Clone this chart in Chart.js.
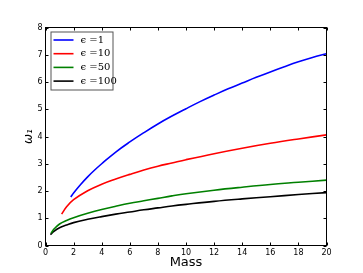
<!DOCTYPE html>
<html>
<head>
<meta charset="utf-8">
<script src="https://cdn.jsdelivr.net/npm/chart.js@4.4.0/dist/chart.umd.min.js"></script>
<style>
html,body{margin:0;padding:0;background:#fff;}
</style>
</head>
<body>
<canvas id="chart" width="363" height="273"></canvas>
<script>
// series names + colours
var seriesNames = ['\u03f5 =1', '\u03f5 =10', '\u03f5 =50', '\u03f5 =100'];
var seriesColors = ['#0000ff', '#ff0000', '#008000', '#000000'];

// epsilon = 1
var massE1  = [1.8, 2, 2.5, 3, 3.5, 4, 5, 6, 7, 8, 9, 10, 11, 12, 13, 14, 15, 16, 17, 18, 19, 20];
var omegaE1 = [1.78, 1.93, 2.24, 2.52, 2.77, 3.0, 3.43, 3.80, 4.14, 4.46, 4.75, 5.02, 5.28, 5.52, 5.75, 5.96, 6.17, 6.37, 6.56, 6.74, 6.90, 7.04];
// epsilon = 10
var massE10  = [1.15, 1.5, 2, 3, 4, 5, 6, 7, 8, 9, 10, 12, 14, 16, 18, 20];
var omegaE10 = [1.15, 1.42, 1.68, 2.01, 2.25, 2.44, 2.61, 2.77, 2.91, 3.03, 3.15, 3.37, 3.57, 3.75, 3.91, 4.06];
// epsilon = 50
var massE50  = [0.4, 0.6, 1, 1.5, 2, 3, 4, 5, 6, 7, 8, 9, 10, 12, 14, 16, 18, 20];
var omegaE50 = [0.45, 0.60, 0.79, 0.92, 1.02, 1.18, 1.32, 1.44, 1.55, 1.64, 1.73, 1.82, 1.90, 2.03, 2.14, 2.24, 2.32, 2.40];
// epsilon = 100
var massE100  = [0.35, 0.6, 1, 1.5, 2, 3, 4, 5, 6, 7, 8, 9, 10, 12, 14, 16, 18, 20];
var omegaE100 = [0.40, 0.52, 0.65, 0.75, 0.84, 0.96, 1.06, 1.15, 1.23, 1.31, 1.38, 1.45, 1.51, 1.62, 1.71, 1.79, 1.87, 1.94];

var xTicks = [0, 2, 4, 6, 8, 10, 12, 14, 16, 18, 20];
var yTicks = [0, 1, 2, 3, 4, 5, 6, 7, 8];

function pts(xs, ys) {
    var out = [];
    for (let i = 0; i < xs.length; i++) out.push({x: xs[i], y: ys[i]});
    return out;
}

var allMass = [massE1, massE10, massE50, massE100];
var allOmega = [omegaE1, omegaE10, omegaE50, omegaE100];
var datasets = [];
for (let i = 0; i < seriesNames.length; i++) {
    datasets.push({
        label: seriesNames[i],
        data: pts(allMass[i], allOmega[i]),
        borderColor: seriesColors[i],
        borderWidth: 1.6,
        pointRadius: 0,
        fill: false,
        tension: 0.4
    });
}

// frame with inward ticks on all four sides (matplotlib style)
var framePlugin = {
    id: 'frame',
    afterDraw(chart) {
        const ctx = chart.ctx, a = chart.chartArea;
        const xs = chart.scales.x, ys = chart.scales.y;
        ctx.save();
        ctx.strokeStyle = '#000';
        ctx.lineWidth = 1;
        ctx.strokeRect(a.left, a.top, a.right - a.left, a.bottom - a.top);
        ctx.beginPath();
        xTicks.forEach(v => {
            const px = Math.round(xs.getPixelForValue(v)) + 0.5;
            ctx.moveTo(px, a.bottom); ctx.lineTo(px, a.bottom - 3);
            ctx.moveTo(px, a.top); ctx.lineTo(px, a.top + 3);
        });
        yTicks.forEach(v => {
            const py = Math.round(ys.getPixelForValue(v)) + 0.5;
            ctx.moveTo(a.left, py); ctx.lineTo(a.left + 3, py);
            ctx.moveTo(a.right, py); ctx.lineTo(a.right - 3, py);
        });
        ctx.stroke();
        ctx.restore();
    }
};

// legend box inside the upper left of the plot
var legendPlugin = {
    id: 'innerLegend',
    afterDraw(chart) {
        const ctx = chart.ctx, a = chart.chartArea;
        const x0 = a.left + 5, y0 = a.top + 4;
        const rowH = 13.7;
        ctx.save();
        ctx.fillStyle = '#fff';
        ctx.fillRect(x0, y0, 62, 58);
        ctx.strokeStyle = '#555';
        ctx.lineWidth = 1;
        ctx.strokeRect(x0 + 0.5, y0 + 0.5, 62, 58);
        ctx.font = '10px "DejaVu Serif"';
        ctx.textBaseline = 'middle';
        chart.data.datasets.forEach((ds, i) => {
            const y = y0 + 8.5 + i * rowH;
            ctx.strokeStyle = ds.borderColor;
            ctx.lineWidth = 1.6;
            ctx.beginPath();
            ctx.moveTo(x0 + 3, y); ctx.lineTo(x0 + 23, y);
            ctx.stroke();
            ctx.fillStyle = '#000';
            ctx.fillText(ds.label, x0 + 30, y);
        });
        ctx.restore();
    }
};

new Chart(document.getElementById('chart'), {
    type: 'line',
    data: {datasets: datasets},
    options: {
        responsive: false,
        animation: false,
        layout: {padding: {left: 0, right: 36.5, top: 27.5, bottom: 0}},
        plugins: {legend: {display: false}, tooltip: {enabled: false}},
        scales: {
            x: {
                type: 'linear', min: 0, max: 20,
                afterBuildTicks: s => { s.ticks = xTicks.map(v => ({value: v})); },
                afterFit: s => { s.height = 27.5; },
                grid: {display: false, drawTicks: false},
                border: {display: false},
                ticks: {color: '#000', padding: 3, maxRotation: 0, font: {family: 'DejaVu Sans', size: 8}},
                title: {display: true, text: 'Mass', color: '#000', padding: {top: 0, bottom: 3}, font: {family: 'DejaVu Sans', size: 13}}
            },
            y: {
                type: 'linear', min: 0, max: 8,
                afterBuildTicks: s => { s.ticks = yTicks.map(v => ({value: v})); },
                afterFit: s => { s.width = 45.5; },
                grid: {display: false, drawTicks: false},
                border: {display: false},
                ticks: {color: '#000', padding: 3, font: {family: 'DejaVu Sans', size: 8}},
                title: {display: true, text: '\u03c9\u2081', color: '#000', padding: {top: 22, bottom: 0}, font: {family: 'DejaVu Sans', size: 12, style: 'italic'}}
            }
        }
    },
    plugins: [framePlugin, legendPlugin]
});
</script>
</body>
</html>
